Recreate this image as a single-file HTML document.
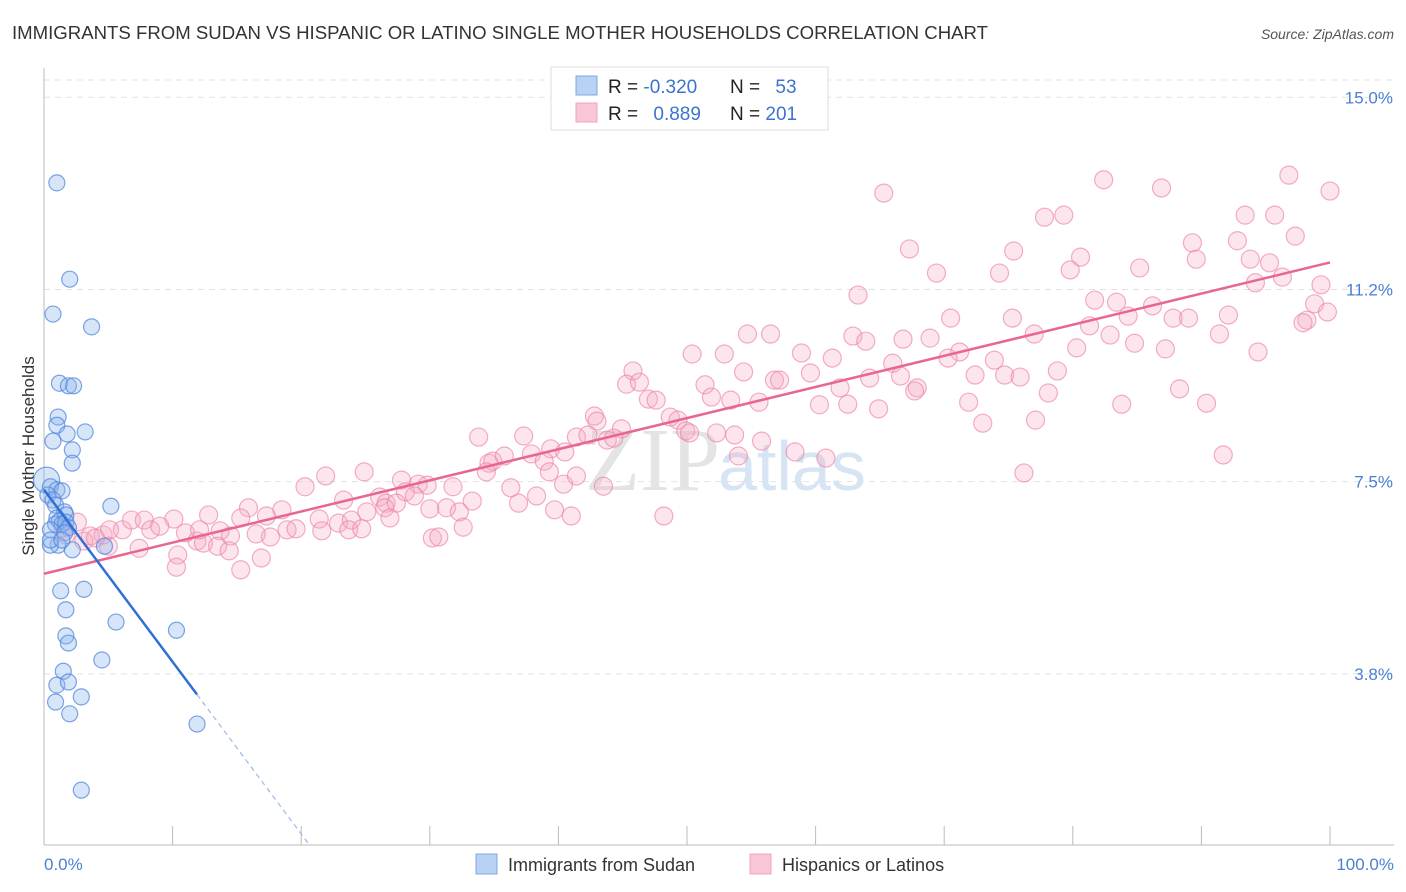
<!DOCTYPE html>
<html><head><meta charset="utf-8">
<style>
body{margin:0;background:#fff;font-family:"Liberation Sans",sans-serif;}
svg{display:block}
</style></head>
<body>
<svg id="chart" width="1406" height="892" viewBox="0 0 1406 892">
<text x="12" y="39" font-size="18" fill="#333" textLength="976" lengthAdjust="spacingAndGlyphs">IMMIGRANTS FROM SUDAN VS HISPANIC OR LATINO SINGLE MOTHER HOUSEHOLDS CORRELATION CHART</text>
<text x="1394" y="39" font-size="14" fill="#555" font-style="italic" text-anchor="end">Source: ZipAtlas.com</text>
<g id="grid"></g>
<text x="720" y="490" font-size="90" fill="#e4e4e4" text-anchor="end" font-family="Liberation Serif">ZIP</text>
<text x="718" y="490" font-size="70" fill="#d6e4f4">atlas</text>
<g id="ylabels"></g>
<text transform="translate(34,456) rotate(-90)" font-size="17" fill="#333" text-anchor="middle">Single Mother Households</text>
<line x1="44" y1="68" x2="44" y2="845" stroke="#bbb"/>
<line x1="44" y1="845" x2="1394" y2="845" stroke="#bbb"/>
<g id="xticks"></g>
<text x="44" y="870" font-size="17" fill="#4a7fd4">0.0%</text>
<text x="1394" y="870" font-size="17" fill="#4a7fd4" text-anchor="end">100.0%</text>
<g id="pinkpts"></g>
<g id="bluepts"></g>
<g id="lines"></g>
<g>
<rect x="551" y="67" width="277" height="63" fill="#fff" stroke="#ddd"/>
<rect x="576" y="76" width="21" height="19" fill="#b8d2f4" stroke="#7fa8e0"/>
<rect x="576" y="103" width="21" height="19" fill="#f9c6d5" stroke="#eea4bc"/>
<text x="608" y="93" font-size="19" fill="#222">R = <tspan fill="#3a74d0">-0.320</tspan></text>
<text x="730" y="93" font-size="19" fill="#222">N = <tspan fill="#3a74d0" dx="10">53</tspan></text>
<text x="608" y="120" font-size="19" fill="#222">R = <tspan fill="#3a74d0" dx="10">0.889</tspan></text>
<text x="730" y="120" font-size="19" fill="#222">N = <tspan fill="#3a74d0">201</tspan></text>
</g>
<g>
<rect x="476" y="854" width="21" height="20" fill="#b8d2f4" stroke="#7fa8e0"/>
<text x="508" y="871" font-size="18" fill="#333">Immigrants from Sudan</text>
<rect x="750" y="854" width="21" height="20" fill="#f9c6d5" stroke="#eea4bc"/>
<text x="782" y="871" font-size="18" fill="#333">Hispanics or Latinos</text>
</g>
</svg>
<script>
const yTicks=[15,11.25,7.5,3.75];
const yTickLabels=["15.0%","11.2%","7.5%","3.8%"];
const xTicks=[0,10,20,30,40,50,60,70,80,90,100];
const pinkX=[65.3,82.4,86.9,96.8,100,77.8,79.3,67.3,75.4,89.3,92.8,93.4,95.7,97.3,69.4,74.3,80.6,79.8,85.2,89.6,93.8,95.3,94.2,96.3,99.3,63.3,81.7,83.4,86.2,98.8,99.8,98.2,97.9,87.8,89.0,70.5,75.3,84.3,92.1,81.3,82.9,91.4,77.0,54.7,56.5,62.9,63.9,66.8,68.9,50.4,52.9,58.9,61.3,80.3,84.8,87.2,94.4,71.2,70.3,73.9,66.0,45.8,54.4,59.6,78.8,72.4,74.7,75.9,66.6,45.3,46.3,51.4,56.8,57.2,61.9,64.2,51.9,67.9,78.1,88.3,67.7,47.0,47.6,53.4,55.6,42.8,48.7,49.3,60.3,62.5,64.9,71.9,83.8,90.4,43.0,44.9,41.4,42.3,49.9,50.2,52.3,53.7,55.8,33.8,37.3,73.0,77.1,37.9,39.4,40.5,43.8,44.3,54.0,58.4,60.8,34.6,34.9,35.8,38.9,39.3,76.2,91.7,21.9,24.9,27.8,29.1,29.8,40.4,41.4,43.5,34.4,20.3,26.1,26.6,28.1,28.8,31.8,36.3,38.3,36.9,33.3,15.9,17.3,18.5,12.8,23.3,25.1,26.5,27.4,30.0,31.3,32.3,39.7,41.0,48.2,10.1,11.0,13.7,15.3,17.6,18.9,19.6,21.4,21.6,22.9,23.9,23.7,24.7,26.9,32.6,1.5,2.6,3.6,4.6,5.1,6.1,6.8,7.8,8.3,9.0,11.9,12.4,14.5,16.5,12.1,13.5,10.4,7.4,5.0,30.2,30.7,14.4,15.3,16.9,10.3,1.7,3.1,4.0];
const pinkY=[13.13,13.39,13.23,13.48,13.17,12.66,12.70,12.04,12.00,12.16,12.20,12.70,12.70,12.29,11.57,11.57,11.88,11.63,11.67,11.84,11.84,11.77,11.38,11.49,11.34,11.14,11.04,11.00,10.93,10.97,10.81,10.65,10.60,10.69,10.69,10.69,10.69,10.73,10.75,10.54,10.36,10.38,10.38,10.38,10.38,10.34,10.24,10.28,10.30,9.99,9.99,10.01,9.91,10.11,10.20,10.09,10.03,10.03,9.91,9.87,9.81,9.66,9.64,9.62,9.66,9.58,9.58,9.54,9.56,9.40,9.44,9.39,9.48,9.48,9.33,9.52,9.15,9.33,9.23,9.31,9.27,9.11,9.09,9.09,9.05,8.78,8.76,8.70,9.00,9.01,8.92,9.05,9.01,9.03,8.68,8.53,8.37,8.41,8.49,8.45,8.45,8.41,8.29,8.37,8.39,8.64,8.70,8.04,8.14,8.08,8.31,8.35,8.00,8.08,7.96,7.86,7.90,8.00,7.90,7.69,7.67,8.02,7.61,7.69,7.53,7.45,7.43,7.45,7.61,7.41,7.69,7.40,7.20,7.08,7.30,7.22,7.40,7.38,7.22,7.08,7.12,6.99,6.83,6.95,6.85,7.14,6.91,6.99,7.08,6.97,6.99,6.91,6.95,6.83,6.83,6.77,6.50,6.54,6.79,6.42,6.56,6.58,6.77,6.54,6.69,6.75,6.56,6.58,6.79,6.61,6.60,6.71,6.44,6.46,6.56,6.56,6.75,6.75,6.56,6.63,6.34,6.30,6.44,6.48,6.56,6.24,6.07,6.20,6.24,6.40,6.42,6.15,5.78,6.01,5.83,6.46,6.34,6.40];
const blueX=[1.0,2.0,0.7,3.7,1.2,1.9,2.3,1.1,1.0,3.2,1.8,0.7,2.2,2.2,0.2,0.5,1.0,1.4,0.3,0.7,5.2,0.9,1.6,1.7,1.0,1.2,0.9,1.4,1.7,1.9,0.5,1.6,1.1,0.5,2.2,4.7,1.3,3.1,1.7,5.6,1.7,1.9,10.3,4.5,1.5,1.0,1.9,2.9,0.9,2.0,11.9,2.9,0.5,1.4];
const blueY=[13.33,11.45,10.77,10.52,9.42,9.37,9.37,8.76,8.60,8.47,8.43,8.29,8.12,7.86,7.53,7.40,7.34,7.32,7.24,7.14,7.02,7.04,6.91,6.85,6.79,6.73,6.67,6.67,6.71,6.60,6.56,6.50,6.26,6.26,6.17,6.24,5.37,5.40,5.00,4.76,4.49,4.35,4.60,4.02,3.80,3.53,3.59,3.30,3.20,2.97,2.77,1.48,6.36,6.36];
const NS="http://www.w3.org/2000/svg";
const X0=44,X1=1330,YB=866,YS=51.25;
function sx(v){return X0+(X1-X0)*v/100;}
function sy(v){return YB-v*YS;}
function mk(tag,attrs,parent){const e=document.createElementNS(NS,tag);for(const k in attrs)e.setAttribute(k,attrs[k]);parent.appendChild(e);return e;}
const grid=document.getElementById('grid'),yl=document.getElementById('ylabels');
const topLine=mk('line',{x1:44,y1:80,x2:1394,y2:80,stroke:'#e2e2e2','stroke-dasharray':'6,5'},grid);


yTicks.forEach((t,i)=>{
 const g=mk('line',{x1:44,y1:sy(t),x2:1394,y2:sy(t),stroke:'#e2e2e2','stroke-dasharray':'6,5'},grid);
 
 
 const l=mk('text',{x:1393,y:sy(t)+6,'font-size':17,fill:'#4a7fd4','text-anchor':'end'},yl);
 l.textContent=yTickLabels[i];
 
 
});
const xt=document.getElementById('xticks');
xTicks.forEach(t=>{
 const l=mk('line',{x1:sx(t),y1:826,x2:sx(t),y2:845,stroke:'#bbb'},xt);
 
 
});
const pp=document.getElementById('pinkpts');
pinkX.forEach((x,i)=>{
 const c=mk('circle',{cx:sx(x),cy:sy(pinkY[i]),r:9,fill:'rgba(246,170,195,0.3)',stroke:'rgba(236,130,165,0.65)','stroke-width':1.2},pp);
 
 
});
const bp=document.getElementById('bluepts');
blueX.forEach((x,i)=>{
 const c=mk('circle',{cx:sx(x),cy:sy(blueY[i]),r:(i===14?13:8),fill:'rgba(140,180,238,0.35)',stroke:'rgba(80,135,220,0.75)','stroke-width':1.2},bp);
 
 
});
function fit(xs,ys){const n=xs.length;let mx=0,my=0;for(let i=0;i<n;i++){mx+=xs[i];my+=ys[i];}mx/=n;my/=n;let sxy=0,sxx=0;for(let i=0;i<n;i++){sxy+=(xs[i]-mx)*(ys[i]-my);sxx+=(xs[i]-mx)**2;}const b=sxy/sxx;return [my-b*mx,b];}
const ln=document.getElementById('lines');
const pf=fit(pinkX,pinkY);
const pl=mk('line',{x1:sx(0),y1:sy(pf[0]),x2:sx(100),y2:sy(pf[0]+pf[1]*100),stroke:'#e8668f','stroke-width':2.5},ln);


const bf=fit(blueX,blueY);
const bmax=Math.max(...blueX);
const bl=mk('line',{x1:sx(0),y1:sy(bf[0]),x2:sx(bmax),y2:sy(bf[0]+bf[1]*bmax),stroke:'#2f6fd6','stroke-width':2.5},ln);


const xe=Math.min(100,(bf[0]-0.4)/(-bf[1]||1));
const bd=mk('line',{x1:sx(bmax),y1:sy(bf[0]+bf[1]*bmax),x2:sx(xe),y2:sy(bf[0]+bf[1]*xe),stroke:'#9bb8e4','stroke-width':1.2,'stroke-dasharray':'5,4'},ln);


</script>
</body></html>
